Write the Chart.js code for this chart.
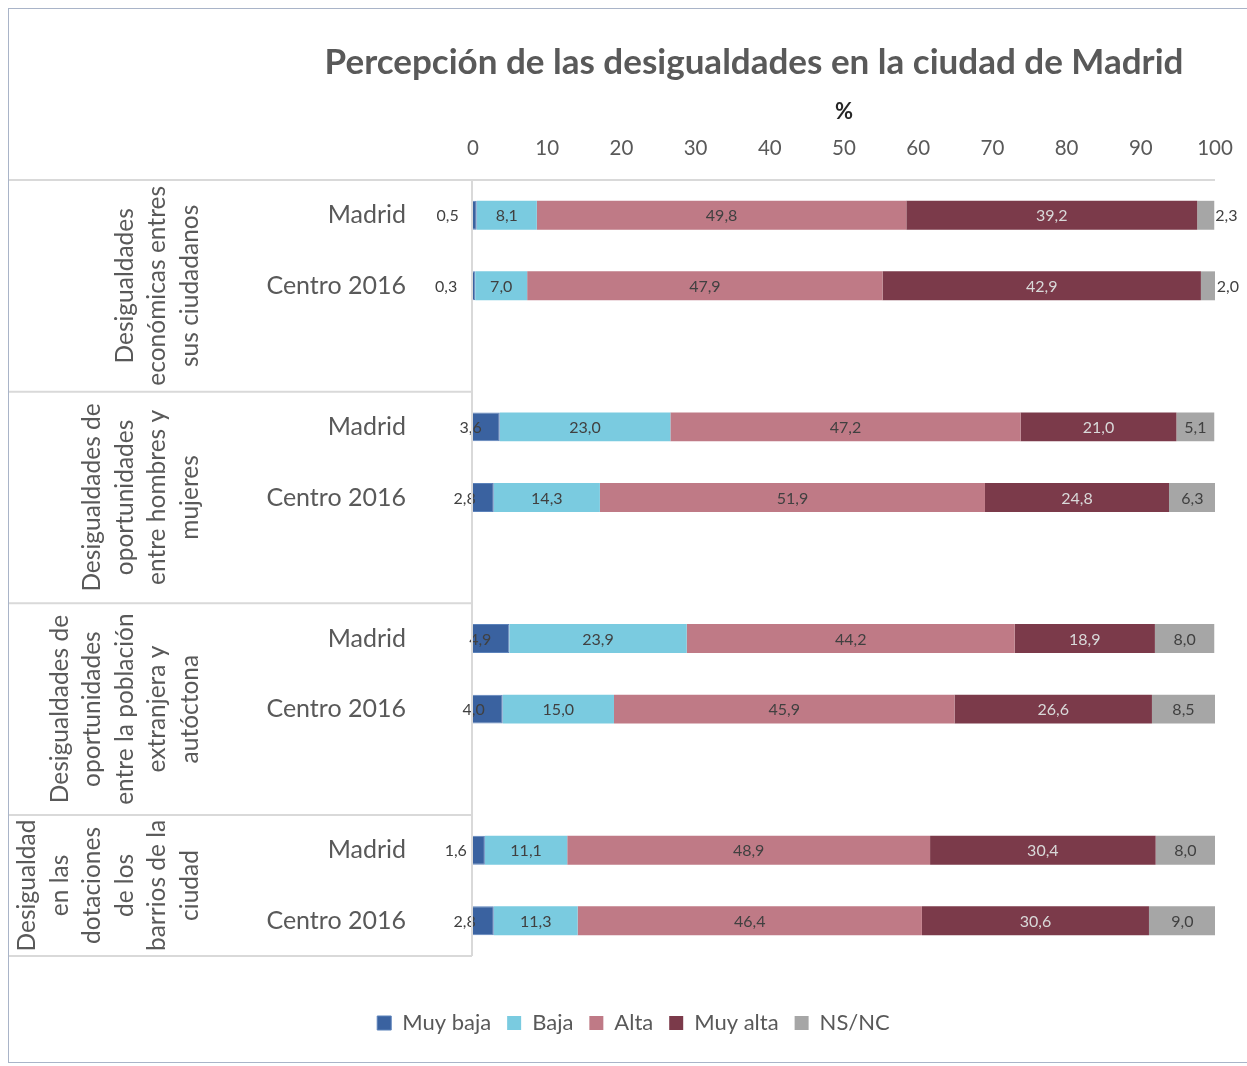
<!DOCTYPE html>
<html><head><meta charset="utf-8">
<script src="https://cdn.jsdelivr.net/npm/chart.js@4.4.1/dist/chart.umd.min.js"></script>
<style>html,body{margin:0;padding:0;background:#fff}canvas{display:block}</style>
</head><body>
<canvas id="c" width="1247" height="1066"></canvas>
<script>
// ---- DATA ----
const categories = ['Madrid', 'Centro 2016', '', 'Madrid', 'Centro 2016', '', 'Madrid', 'Centro 2016', '', 'Madrid', 'Centro 2016'];
const muyBaja = [0.5, 0.3, null, 3.6, 2.8, null, 4.9, 4.0, null, 1.6, 2.8];
const baja    = [8.1, 7.0, null, 23.0, 14.3, null, 23.9, 15.0, null, 11.1, 11.3];
const alta    = [49.8, 47.9, null, 47.2, 51.9, null, 44.2, 45.9, null, 48.9, 46.4];
const muyAlta = [39.2, 42.9, null, 21.0, 24.8, null, 18.9, 26.6, null, 30.4, 30.6];
const nsnc    = [2.3, 2.0, null, 5.1, 6.3, null, 8.0, 8.5, null, 8.0, 9.0];
const seriesNames = ['Muy baja', 'Baja', 'Alta', 'Muy alta', 'NS/NC'];
const groupLabels = [
  ['Desigualdades', 'económicas entres', 'sus ciudadanos'],
  ['Desigualdades de', 'oportunidades', 'entre hombres y', 'mujeres'],
  ['Desigualdades de', 'oportunidades', 'entre la población', 'extranjera y', 'autóctona'],
  ['Desigualdad', 'en las', 'dotaciones', 'de los', 'barrios de la', 'ciudad']
];
const groupFirst = [0, 3, 6, 9];
const groupLast  = [2, 5, 8, 10];
const xTicks = [0, 10, 20, 30, 40, 50, 60, 70, 80, 90, 100];
const titleText = 'Percepción de las desigualdades en la ciudad de Madrid';
const axisTitle = '%';

// ---- STYLE ----
const colors = ['#3A62A0', '#7ACBE0', '#BF7A86', '#7B3A4A', '#A6A6A6'];
const borderColors = ['#5B82BA', '#7ACBE0', '#BF7A86', '#7B3A4A', '#A6A6A6'];
const FONT = 'Lato, "Open Sans", sans-serif';
const TXT = '#595959';
const LINE = '#D9D9D9';

const tablePlugin = {
  id: 'table',
  afterLayout(chart) {
    // centre the legend on the whole frame, as in the original
    if (chart.legend) { chart.legend.left = 8; chart.legend.right = 1259; }
  },
  beforeDraw(chart) {
    const ctx = chart.ctx;
    ctx.save();
    ctx.strokeStyle = '#A9B4C8';
    ctx.lineWidth = 1;
    ctx.strokeRect(8.5, 8.5, 1260, 1054);
    ctx.restore();
  },
  afterDraw(chart) {
    const ctx = chart.ctx, y = chart.scales.y, a = chart.chartArea;
    const half = Math.abs(y.getPixelForValue(1) - y.getPixelForValue(0)) / 2;
    ctx.save();
    ctx.strokeStyle = LINE;
    ctx.lineWidth = 2;
    ctx.beginPath();
    ctx.moveTo(9, a.top); ctx.lineTo(a.right, a.top);
    ctx.moveTo(a.left - 1, a.top); ctx.lineTo(a.left - 1, a.bottom);
    groupLast.forEach(i => {
      const yy = y.getPixelForValue(i) + half;
      ctx.moveTo(9, yy); ctx.lineTo(a.left - 1, yy);
    });
    ctx.stroke();
    // group labels
    ctx.fillStyle = TXT;
    ctx.font = '24.5px ' + FONT;
    ctx.textAlign = 'center';
    ctx.textBaseline = 'middle';
    groupLabels.forEach((lines, g) => {
      const y0 = y.getPixelForValue(groupFirst[g]) - half;
      const y1 = y.getPixelForValue(groupLast[g]) + half;
      const yc = (y0 + y1) / 2;
      const n = lines.length;
      lines.forEach((ln, i) => {
        const x = 190 - (n - 1 - i) * 32.6;
        ctx.save();
        ctx.translate(x, yc);
        ctx.rotate(-Math.PI / 2);
        ctx.fillText(ln, 0, 0);
        ctx.restore();
      });
    });
    ctx.restore();
  }
};

const labelPlugin = {
  id: 'vals',
  afterDatasetsDraw(chart) {
    const ctx = chart.ctx;
    ctx.save();
    ctx.font = '16px ' + FONT;
    ctx.textBaseline = 'middle';
    chart.data.datasets.forEach((ds, di) => {
      const meta = chart.getDatasetMeta(di);
      meta.data.forEach((el, i) => {
        const v = ds.data[i];
        if (v === null || v === undefined) return;
        const txt = v.toFixed(1).replace('.', ',');
        const left = Math.min(el.x, el.base), right = Math.max(el.x, el.base);
        ctx.fillStyle = di === 3 ? '#D9D9D9' : '#404040';
        if (di === 0) {
          ctx.textAlign = 'right';
          ctx.fillText(txt, right - 18, el.y + 1);
        } else if (di === 4 && v < 4) {
          ctx.textAlign = 'left';
          ctx.fillText(txt, right + 1, el.y + 1);
        } else {
          ctx.textAlign = 'center';
          ctx.fillText(txt, (left + right) / 2, el.y + 1);
        }
      });
    });
    ctx.restore();
  }
};

const seriesData = [muyBaja, baja, alta, muyAlta, nsnc];
new Chart(document.getElementById('c'), {
  type: 'bar',
  data: {
    labels: categories,
    datasets: seriesNames.map((n, k) => ({
      label: n,
      data: seriesData[k],
      backgroundColor: colors[k],
      borderColor: borderColors[k],
      borderWidth: k === 0 ? 1 : 0,
      barPercentage: 0.41,
      categoryPercentage: 1.0
    }))
  },
  options: {
    indexAxis: 'y',
    responsive: false,
    animation: false,
    devicePixelRatio: 1,
    layout: { padding: { left: 293, right: 32, top: 10, bottom: 22 } },
    scales: {
      x: {
        position: 'top',
        stacked: true,
        min: 0, max: 100,
        afterBuildTicks(s) { s.ticks = xTicks.map(v => ({ value: v })); },
        grid: { display: false, drawTicks: false },
        border: { display: false },
        ticks: { color: TXT, font: { family: FONT, size: 20.5 }, padding: 19 },
        title: { display: true, text: axisTitle, color: '#262626', font: { family: FONT, size: 22, weight: 'bold' }, padding: { top: 9, bottom: 0 } },
        afterFit(s) { s.height = 90; s.paddingLeft = 0; s.paddingRight = 0; }
      },
      y: {
        stacked: true,
        grid: { display: false, drawTicks: false },
        border: { display: false },
        ticks: { color: TXT, font: { family: FONT, size: 25 }, padding: 67, autoSkip: false },
        afterFit(s) { s.width = 180; s._computeLabelArea = () => undefined; }
      }
    },
    plugins: {
      title: {
        display: true, text: titleText, color: TXT,
        font: { family: FONT, size: 35, weight: 'bold' },
        padding: { top: 32, bottom: 6 }
      },
      legend: {
        position: 'bottom',
        title: { display: true, text: ' ', font: { size: 10 }, padding: { top: 28, bottom: 0 } },
        labels: { color: TXT, font: { family: FONT, size: 22 }, boxWidth: 14, boxHeight: 14, padding: 16 }
      },
      tooltip: { enabled: false }
    }
  },
  plugins: [tablePlugin, labelPlugin]
});
</script>
</body></html>
